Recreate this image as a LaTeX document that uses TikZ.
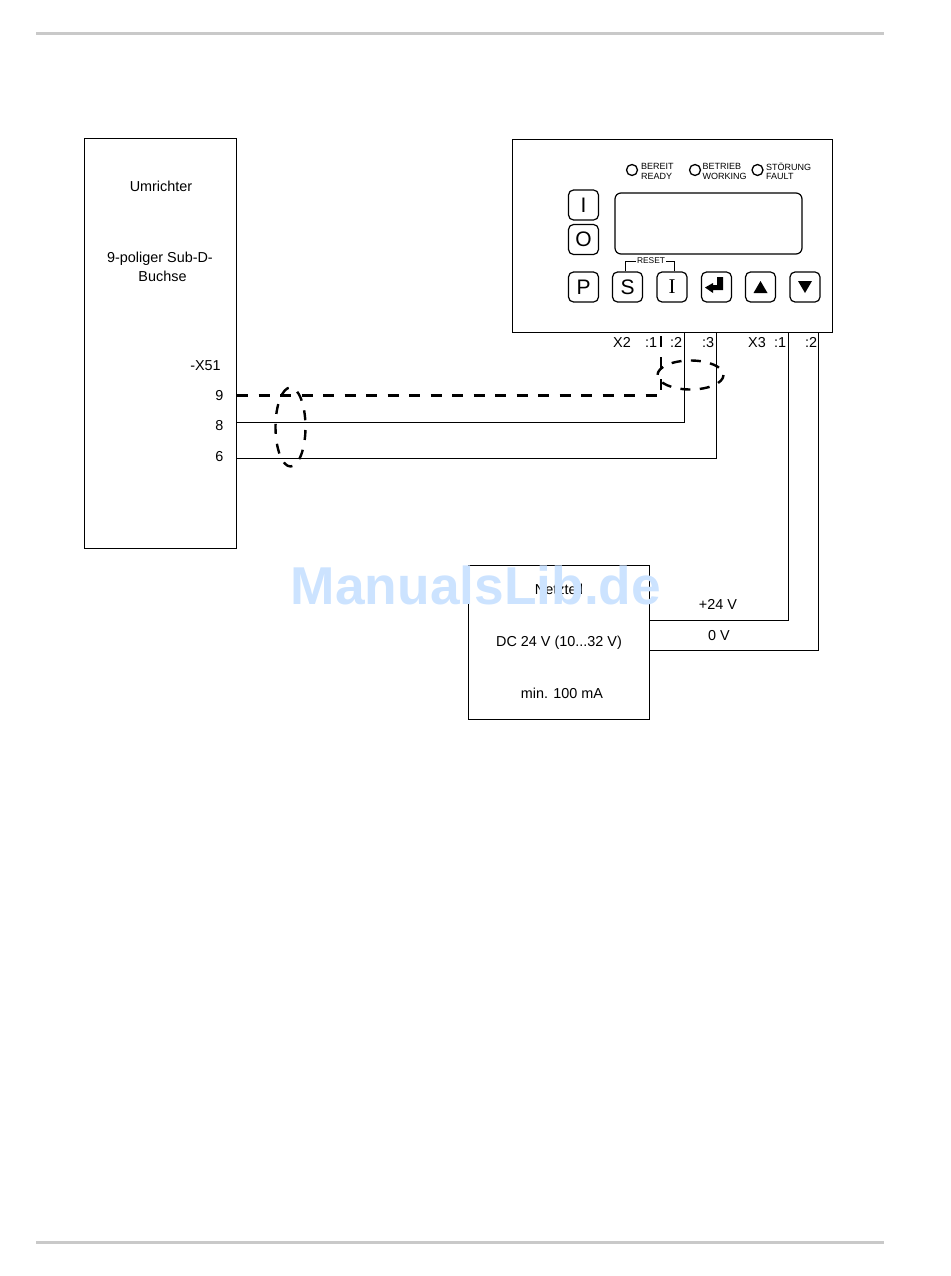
\documentclass[tikz,border=0pt]{standalone}
\usepackage{fontspec}
\setmainfont{Liberation Sans}
\newfontfamily\keyserif{Liberation Serif}
\newcommand{\pxfont}[1]{\fontsize{#1}{#1}\selectfont}
\tikzset{
    lab/.style={inner sep=0pt,font=\pxfont{14.4}},
    ledlab/.style={inner sep=0pt,anchor=west,font=\pxfont{9}},
    led/.style={draw,circle,line width=1.3pt,minimum size=11pt,inner sep=0pt},
    keybox/.style={draw,rounded corners=5pt,line width=1.2pt,minimum size=30pt,inner sep=0pt,font=\pxfont{21}},
    wire/.style={line width=1pt},
    shield/.style={line width=2.4pt,dash pattern=on 11pt off 10.5pt},
    rulebar/.style={line width=3.5pt,color=black!21}
}
\begin{document}
\begin{tikzpicture}[x=1pt,y=-1pt]
\useasboundingbox (0,0) rectangle (950,1276);

% page rules
\draw[rulebar] (36,33.5) -- (884,33.5);
\draw[rulebar] (36,1242.5) -- (884,1242.5);

% inverter
\node[draw,line width=1pt,minimum width=152pt,minimum height=410pt,inner sep=0pt] (UMR) at (160.5,343.5) {};
\node[lab] (UMRT) at (161,186.5) {Umrichter};
\node[lab] (SUBD) at (160,258.5) {9-poliger Sub-D-};
\node[lab] (BUCH) at (162.5,276.5) {Buchse};
\node[lab] (X51) at (205.5,365.5) {-X51};
\node[lab] (P9) at (219.5,396) {9};
\node[lab] (P8) at (219.5,426) {8};
\node[lab] (P6) at (219.5,457) {6};

% panel
\node[draw,line width=1pt,minimum width=320pt,minimum height=193pt,inner sep=0pt] (PANEL) at (672.5,236) {};
\node[draw,rounded corners=6pt,line width=1.2pt,minimum width=187pt,minimum height=61pt,inner sep=0pt] (DISP) at (708.5,223.5) {};

\node[led] (LEDA) at (632,170) {};
\node[led] (LEDB) at (695,170) {};
\node[led] (LEDC) at (757.5,170) {};
\node[ledlab] (LA1) at (641,166.5) {BEREIT};
\node[ledlab] (LA2) at (641,176.5) {READY};
\node[ledlab] (LB1) at (702.5,166.5) {BETRIEB};
\node[ledlab] (LB2) at (702.5,176.5) {WORKING};
\node[ledlab] (LC1) at (766,166.5) {STÖRUNG};
\node[ledlab] (LC2) at (766,176.5) {FAULT};

% keys
\node[keybox] (KI) at (583.5,205) {I};
\node[keybox] (KO) at (583.5,239.5) {O};
\node[keybox] (KP) at (583.5,287) {P};
\node[keybox] (KS) at (627.5,287) {S};
\node[keybox,font=\pxfont{21}\keyserif] (KV) at (672,287) {I};
\node[keybox] (KE) at (716.5,287) {};
\node[keybox] (KU) at (760.5,287) {};
\node[keybox] (KD) at (805,287) {};

\fill (723,277) -- (723,290) -- (713,290) -- (713,293) -- (705,287.5) -- (713,283) -- (713,285) -- (717,285) -- (717,277) -- cycle;
\fill (753.5,293) -- (767.5,293) -- (760.5,281) -- cycle;
\fill (798,281) -- (812,281) -- (805,293) -- cycle;

% reset
\node[inner sep=1pt,font=\pxfont{8.4}] (RESET) at (651,261) {RESET};
\draw[line width=.8pt] ([xshift=-2.5pt]KS.north) |- (RESET.west);
\draw[line width=.8pt] ([xshift=2.5pt]KV.north) |- (RESET.east);

% terminals
\node[lab] (X2) at (622,342.5) {X2};
\node[lab] (X2A) at (651,342.5) {:1};
\node[lab] (X2B) at (676,342.5) {:2};
\node[lab] (X2C) at (708,342.5) {:3};
\node[lab] (X3) at (757,342.5) {X3};
\node[lab] (X3A) at (780,342.5) {:1};
\node[lab] (X3B) at (811,342.5) {:2};

% power supply
\node[draw,line width=1pt,minimum width=181pt,minimum height=154pt,inner sep=0pt] (NT) at (559,642) {};
\node[lab] (NTT) at (559,589.5) {Netzteil};
\node[lab] (NTV) at (559,642.5) {DC 24 V (10...32 V)};
\node[lab] (NTM) at (562,693.5) {min. 100 mA};
\node[lab] (U24) at (718,604.5) {+24 V};
\node[lab] (U0) at (719,635.5) {0 V};

% wires
\coordinate (U9) at (237,395.5);
\coordinate (U8) at (237,422.5);
\coordinate (U6) at (237,458.5);
\coordinate (A1) at (661,333);
\coordinate (A2) at (684.5,333);
\coordinate (A3) at (716.5,333);
\coordinate (B1) at (788.5,333);
\coordinate (B2) at (818.5,333);
\coordinate (N1) at (650,620.5);
\coordinate (N2) at (650,650.5);

\draw[shield] (U9) -| (A1);
\draw[wire] (U8) -| (A2);
\draw[wire] (U6) -| (A3);
\draw[wire] (N1) -| (B1);
\draw[wire] (N2) -| (B2);

% shields
\draw[shield,dash pattern=on 10pt off 10pt,dash phase=17pt] (290.5,427) ellipse [x radius=15,y radius=39.5];
\draw[shield,dash pattern=on 10pt off 9.4pt] (690.5,375) ellipse [x radius=33,y radius=14.5];

% watermark
\node[inner sep=0pt,text=blue!55!cyan!20,font=\pxfont{53.3}\bfseries] (MARK) at (476,585) {ManualsLib.de};

\end{tikzpicture}
\end{document}
